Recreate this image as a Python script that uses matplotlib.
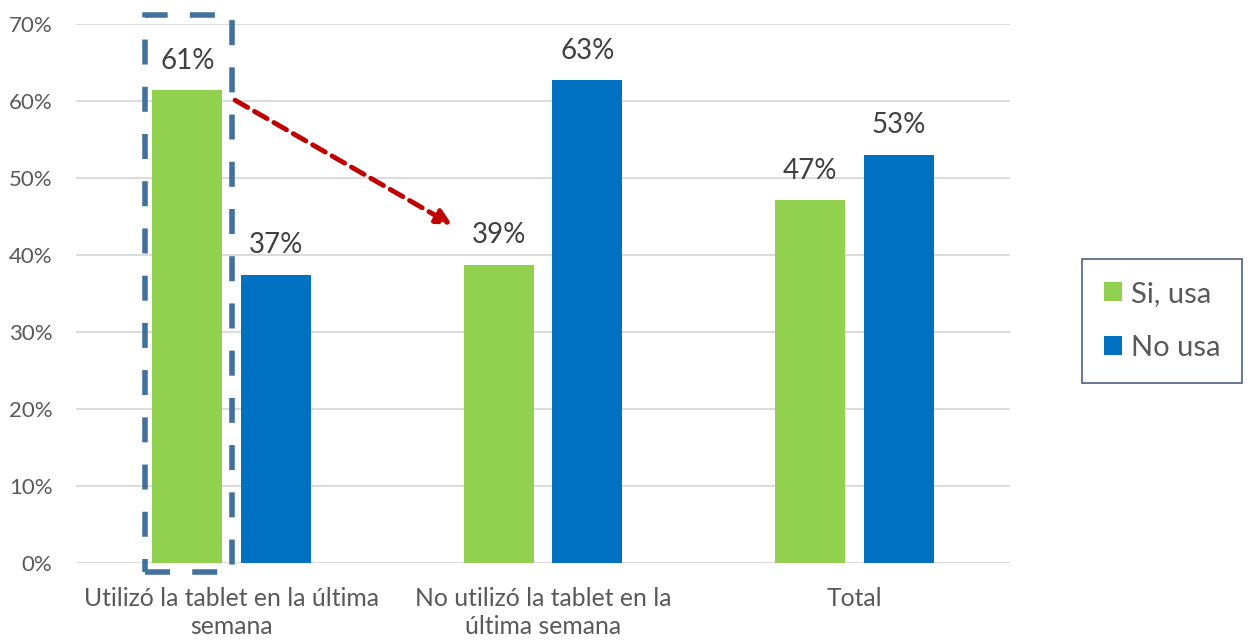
import matplotlib.pyplot as plt
import numpy as np
from matplotlib.patches import Rectangle, Patch

plt.rcParams['font.family'] = ['Lato', 'DejaVu Sans']

# data
categorias = ["Utilizó la tablet en la última\nsemana",
              "No utilizó la tablet en la\núltima semana",
              "Total"]
si_usa = [61.4, 38.7, 47.1]
no_usa = [37.4, 62.7, 53.0]
etiquetas_si = ["61%", "39%", "47%"]
etiquetas_no = ["37%", "63%", "53%"]
series = ["Si, usa", "No usa"]

verde = "#92D050"
azul = "#0070C0"
gris = "#595959"

fig = plt.figure(figsize=(12.48, 6.4), dpi=100)
ax = fig.add_axes([76 / 1248, 1 - 563 / 640, (1010 - 76) / 1248, (563 - 24) / 640])

x = np.arange(len(categorias))
ancho = 0.225
desp = 0.142
b1 = ax.bar(x - desp, si_usa, ancho, color=verde, zorder=3)
b2 = ax.bar(x + desp, no_usa, ancho, color=azul, zorder=3)

for barras, etiquetas in [(b1, etiquetas_si), (b2, etiquetas_no)]:
    for b, t in zip(barras, etiquetas):
        ax.annotate(t, (b.get_x() + b.get_width() / 2, b.get_height()),
                    xytext=(0, 12), textcoords="offset points",
                    ha="center", va="bottom", fontsize=20, color="#404040")

ax.set_xlim(-0.5, 2.5)
ax.set_ylim(0, 70)
ax.set_yticks(np.arange(0, 71, 10))
ax.set_yticklabels([f"{v}%" for v in range(0, 71, 10)])
ax.set_xticks(x)
ax.set_xticklabels(categorias, fontsize=17.8, color=gris, linespacing=1.3)
ax.tick_params(axis="y", length=0, labelsize=16, labelcolor=gris, pad=17)
ax.tick_params(axis="x", length=0, pad=17)
ax.grid(axis="y", color="#D9D9D9", linewidth=1.3, zorder=0)
for s in ax.spines.values():
    s.set_visible(False)

# dashed box around the first green bar
ax.add_patch(Rectangle((-0.2785, -1.2), 0.28, 72.4, fill=False,
                       edgecolor="#41719C", linewidth=4, linestyle=(0, (4.5, 4)),
                       clip_on=False, zorder=4))

# red dashed arrow
ax.annotate("", xy=(0.708, 43.9), xytext=(0.011, 60.1),
            arrowprops=dict(arrowstyle="-|>,head_length=0.9,head_width=0.45",
                            color="#C00000", lw=3.5, linestyle=(0, (3, 1.6)),
                            shrinkA=0, shrinkB=0),
            annotation_clip=False, zorder=5)

handles = [Patch(facecolor=verde), Patch(facecolor=azul)]
leg = fig.legend(handles, series, loc="center left",
                 bbox_to_anchor=(1082 / 1248, 1 - 321 / 640),
                 fontsize=21, frameon=True, fancybox=False, edgecolor="#1F3864",
                 labelspacing=0.95, handlelength=0.62, handleheight=0.62,
                 handletextpad=0.3, borderpad=0.75, borderaxespad=0)
leg.get_frame().set_linewidth(1.2)
for t in leg.get_texts():
    t.set_color(gris)

fig.savefig("out.png", dpi=100)
